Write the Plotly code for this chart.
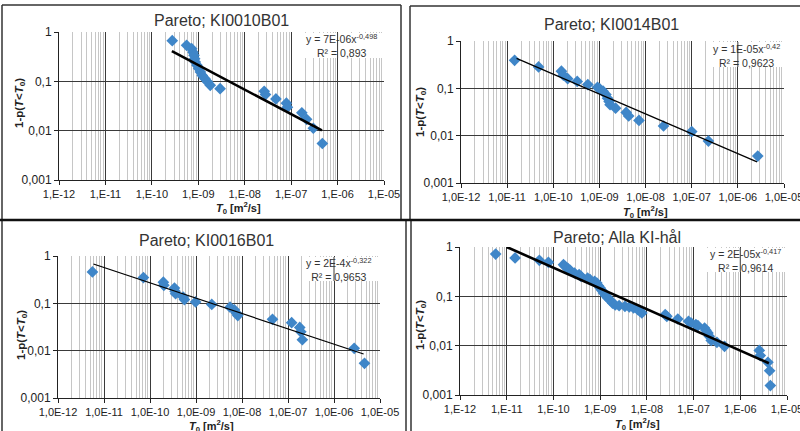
import plotly.graph_objects as go

W, H = 800, 431

# ---- data: transmissivity T0 [m2/s] and exceedance 1-p(T<T0) ----
k10_t = [2.75e-10, 5.6e-10, 7.2e-10, 7.7e-10, 8.1e-10, 8.35e-10, 8.6e-10, 9.4e-10,
         1.02e-9, 1.11e-9, 1.22e-9, 1.39e-9, 1.59e-9, 1.81e-9, 2.95e-9, 2.63e-8,
         2.8e-8, 4.7e-8, 7.9e-8, 8.3e-8, 1.7e-7, 2.15e-7, 3.0e-7, 4.7e-7]
k10_p = [0.667, 0.537, 0.46, 0.39, 0.337, 0.288, 0.247, 0.211,
         0.181, 0.155, 0.132, 0.113, 0.097, 0.083, 0.071, 0.063,
         0.054, 0.044, 0.036, 0.030, 0.023, 0.017, 0.0112, 0.0055]
k10_fit_t = [2.7e-10, 4.6e-7]
k10_fit_p = [0.408, 0.0101]

k14_t = [1.45e-11, 4.8e-11, 1.5e-10, 1.65e-10, 2.05e-10, 3.3e-10, 5.6e-10, 9.1e-10,
         1.02e-9, 1.2e-9, 1.38e-9, 1.5e-9, 1.62e-9, 1.7e-9, 2.24e-9, 3.8e-9,
         4.3e-9, 7.2e-9, 2.45e-8, 1.0e-7, 2.3e-7, 2.7e-6]
k14_p = [0.39, 0.284, 0.23, 0.19, 0.16, 0.14, 0.12, 0.105,
         0.097, 0.087, 0.074, 0.062, 0.053, 0.045, 0.038, 0.031,
         0.026, 0.021, 0.016, 0.0122, 0.0077, 0.0037]
k14_fit_t = [1.6e-11, 2.6e-6]
k14_fit_p = [0.43, 0.0028]

k16_t = [5.6e-12, 7.2e-11, 1.95e-10, 2.0e-10, 3.4e-10, 3.5e-10, 3.6e-10, 5.25e-10,
         5.6e-10, 9.8e-10, 2.2e-9, 5.5e-9, 6.8e-9, 7.6e-9, 8.1e-9, 4.6e-8,
         1.2e-7, 1.8e-7, 1.9e-7, 2.05e-7, 2.75e-6, 4.6e-6]
k16_p = [0.46, 0.35, 0.28, 0.24, 0.21, 0.18, 0.16, 0.136,
         0.12, 0.107, 0.095, 0.083, 0.073, 0.062, 0.055, 0.046,
         0.039, 0.031, 0.025, 0.017, 0.0112, 0.0054]
k16_fit_t = [5.9e-12, 4.4e-6]
k16_fit_p = [0.676, 0.0085]

all_t = [5.8e-12, 1.51e-11, 5.0e-11, 7.8e-11, 1.64e-10, 1.78e-10, 2.03e-10, 2.28e-10,
         2.82e-10, 3.55e-10, 3.9e-10, 5.4e-10, 6.1e-10, 7.6e-10, 8.5e-10, 9.2e-10,
         1.0e-9, 1.09e-9, 1.18e-9, 1.32e-9, 1.46e-9, 1.64e-9, 1.84e-9, 2.1e-9,
         2.55e-9, 3.4e-9, 4.2e-9, 5.2e-9, 6.4e-9, 7.2e-9, 7.8e-9, 2.47e-8,
         2.68e-8, 4.6e-8, 7.8e-8, 8.9e-8, 1.12e-7, 1.24e-7, 1.72e-7, 1.84e-7,
         2.03e-7, 2.17e-7, 2.39e-7, 3.16e-7, 4.6e-7, 2.55e-6, 2.68e-6, 3.9e-6,
         4.25e-6, 4.4e-6]
all_p = [0.72, 0.60, 0.537, 0.489, 0.438, 0.406, 0.37, 0.336,
         0.297, 0.275, 0.254, 0.235, 0.218, 0.201, 0.186, 0.164,
         0.148, 0.132, 0.117, 0.103, 0.0925, 0.083, 0.073, 0.0667,
         0.0647, 0.0627, 0.0608, 0.058, 0.0537, 0.0497, 0.046, 0.0425,
         0.0393, 0.0347, 0.0311, 0.0288, 0.0267, 0.0254, 0.0228, 0.0205,
         0.0181, 0.0155, 0.0128, 0.0117, 0.0097, 0.0080, 0.0063, 0.0046,
         0.0031, 0.00155]
all_fit_t = [1.0e-11, 4.1e-6]
all_fit_p = [1.0, 0.0044]

x_major = [1e-12, 1e-11, 1e-10, 1e-9, 1e-8, 1e-7, 1e-6, 1e-5]
x_labels_short = ["1,E-12", "1,E-11", "1,E-10", "1,E-09", "1,E-08", "1,E-07", "1,E-06", "1,E-05"]
x_labels_long = ["1,0E-12", "1,0E-11", "1,0E-10", "1,0E-09", "1,0E-08", "1,0E-07", "1,0E-06", "1,0E-05"]
y_major = [1e-3, 1e-2, 1e-1, 1]
y_labels = ["0,001", "0,01", "0,1", "1"]
x_minor = [m * 10.0 ** e for e in range(-12, -5) for m in range(2, 10)]

titles = ["Pareto; KI0010B01", "Pareto; KI0014B01", "Pareto; KI0016B01", "Pareto; Alla KI-hål"]
equations = ["y = 7E-06x<sup>-0,498</sup><br>R² = 0,893",
             "y = 1E-05x<sup>-0,42</sup><br>R² = 0,9623",
             "y = 2E-4x<sup>-0,322</sup><br>R² = 0,9653",
             "y = 2E-05x<sup>-0,417</sup><br>R² = 0,9614"]

series = [(k10_t, k10_p, k10_fit_t, k10_fit_p),
          (k14_t, k14_p, k14_fit_t, k14_fit_p),
          (k16_t, k16_p, k16_fit_t, k16_fit_p),
          (all_t, all_p, all_fit_t, all_fit_p)]

# ---- layout of the four panels (pixel positions) ----
panels = [
    dict(plot=(59, 384, 32, 180), labels=x_labels_short, title=(221, 20), eq=(341, 45.5),
         box=(302, 382, 33, 58), fit_w=2.6, ytitle=(20, 103), xtitle=(238, 208)),
    dict(plot=(461, 784, 41, 183), labels=x_labels_long, title=(611, 24), eq=(746, 55.5),
         box=(708, 783, 42, 67), fit_w=1.2, ytitle=(421, 112), xtitle=(645, 212)),
    dict(plot=(58, 380, 256, 398), labels=x_labels_long, title=(207, 240), eq=(338, 269),
         box=(302, 379, 257, 281), fit_w=1.2, ytitle=(22, 335), xtitle=(211, 426)),
    dict(plot=(460, 787, 247, 395), labels=x_labels_short, title=(617, 237), eq=(745, 260),
         box=(706, 786, 248, 272), fit_w=2.6, ytitle=(421, 325), xtitle=(637, 424)),
]

FONT = "Liberation Sans, Arial, sans-serif"
MARK = "#3f86c8"
MAJOR = "#3a3a3a"
MINOR = "#c6c6c6"


def fx(px):
    return px / W


def fy(py):
    return 1 - py / H


fig = go.Figure()
layout = dict(width=W, height=H, margin=dict(l=0, r=0, t=0, b=0, pad=0, autoexpand=False),
              paper_bgcolor="white", plot_bgcolor="white", showlegend=False,
              font=dict(family=FONT, color="#222"))
annotations = []
shapes = []

for i, (pnl, (t, p, ft, fp), title, eq) in enumerate(zip(panels, series, titles, equations), start=1):
    sfx = "" if i == 1 else str(i)
    xa, ya = "x" + sfx, "y" + sfx
    left, right, top, bottom = pnl["plot"]

    layout["xaxis" + sfx] = dict(
        type="log", range=[-12, -5], domain=[fx(left), fx(right)], anchor=ya,
        automargin=False,
        tickmode="array", tickvals=x_major, ticktext=pnl["labels"],
        tickfont=dict(size=11, color="#222"), ticklabeloverflow="allow",
        showgrid=True, gridcolor=MAJOR, gridwidth=1,
        minor=dict(tickmode="array", tickvals=x_minor, showgrid=True,
                   gridcolor=MINOR, gridwidth=1, ticks=""),
        showline=True, linecolor="#222", linewidth=1,
        ticks="outside", ticklen=4, tickcolor="#222", zeroline=False)
    layout["yaxis" + sfx] = dict(
        type="log", range=[-3, 0], domain=[fy(bottom), fy(top)], anchor=xa,
        automargin=False,
        tickmode="array", tickvals=y_major, ticktext=y_labels,
        tickfont=dict(size=12, color="#222"),
        showgrid=True, gridcolor=MAJOR, gridwidth=1,
        showline=True, linecolor="#222", linewidth=1,
        ticks="outside", ticklen=4, tickcolor="#222", zeroline=False)

    # measured points
    fig.add_trace(go.Scatter(x=t, y=p, mode="markers", xaxis=xa, yaxis=ya,
                             marker=dict(symbol="diamond", size=9, color=MARK,
                                         line=dict(width=0))))
    # power-law trend line
    fig.add_trace(go.Scatter(x=ft, y=fp, mode="lines", xaxis=xa, yaxis=ya,
                             line=dict(color="black", width=pnl["fit_w"])))

    # white label background, with the 1E-06 grid line running through it
    bx0, bx1, by0, by1 = pnl["box"]
    shapes.append(dict(type="rect", layer="above", xref="paper", yref="paper",
                       x0=fx(bx0), x1=fx(bx1), y0=fy(by1), y1=fy(by0),
                       fillcolor="white", line=dict(width=0)))
    gx = left + (right - left) * 6 / 7
    shapes.append(dict(type="line", layer="above", xref="paper", yref="paper",
                       x0=fx(gx), x1=fx(gx), y0=fy(by1), y1=fy(by0),
                       line=dict(color=MAJOR, width=1)))

    annotations.append(dict(text=title, x=fx(pnl["title"][0]), y=fy(pnl["title"][1]),
                            xref="paper", yref="paper", showarrow=False,
                            xanchor="center", yanchor="middle",
                            font=dict(size=16, color="#333")))
    annotations.append(dict(text=eq, x=fx(pnl["eq"][0]), y=fy(pnl["eq"][1]),
                            xref="paper", yref="paper", showarrow=False, align="center",
                            xanchor="center", yanchor="middle",
                            font=dict(size=10.5, color="#333")))
    annotations.append(dict(text="<b>1-p(<i>T</i>&lt;<i>T</i><sub>0</sub>)</b>",
                            x=fx(pnl["ytitle"][0]), y=fy(pnl["ytitle"][1]),
                            xref="paper", yref="paper", showarrow=False, textangle=-90,
                            xanchor="center", yanchor="middle",
                            font=dict(size=11.5, color="#222")))
    annotations.append(dict(text="<b><i>T</i><sub>0</sub> [m<sup>2</sup>/s]</b>",
                            x=fx(pnl["xtitle"][0]), y=fy(pnl["xtitle"][1]),
                            xref="paper", yref="paper", showarrow=False,
                            xanchor="center", yanchor="middle",
                            font=dict(size=11, color="#222")))

# panel frames
frame = dict(type="line", xref="paper", yref="paper", line=dict(color="#333", width=1.5))
for x0, y0, x1, y1 in [(2, 5, 401, 5), (410, 6, 800, 6),
                       (2, 5, 2, 431), (401, 5, 401, 220), (410, 6, 410, 220),
                       (406, 220, 406, 431), (411, 220, 411, 431)]:
    shapes.append(dict(frame, x0=fx(x0), y0=fy(y0), x1=fx(x1), y1=fy(y1)))
shapes.append(dict(type="line", xref="paper", yref="paper", x0=0, x1=1,
                   y0=fy(220), y1=fy(220), line=dict(color="#111", width=2.5)))

layout["annotations"] = annotations
layout["shapes"] = shapes
fig.update_layout(**layout)

fig.write_html("out.html")
